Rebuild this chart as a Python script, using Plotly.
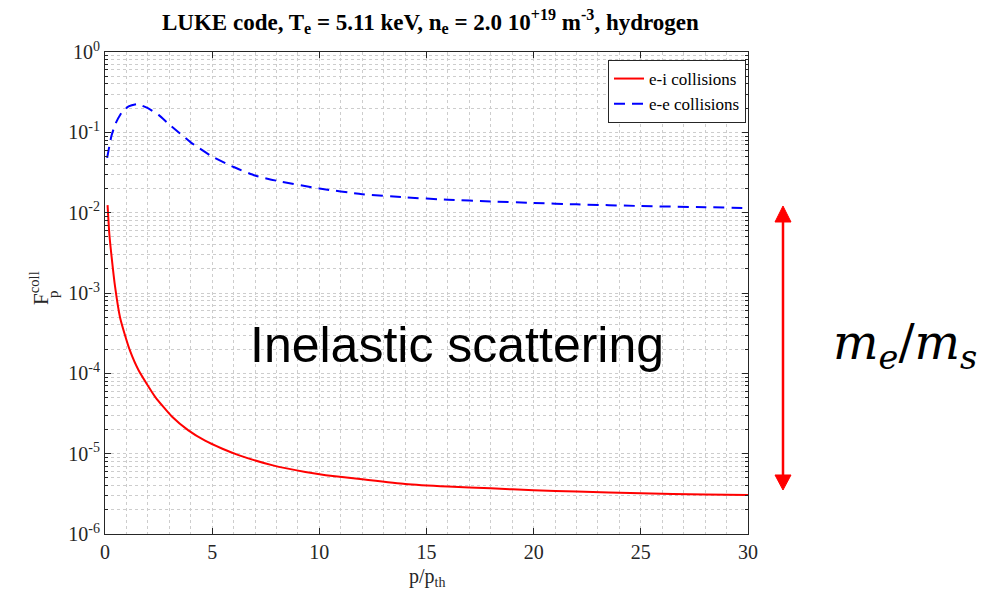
import plotly.graph_objects as go

# ---- data ----
p_ei = [0.12, 0.2, 0.31, 0.47, 0.7, 0.93, 1.17, 1.56, 2.34, 3.12, 3.89, 4.67, 5.45, 6.23, 7.79,
        9.35, 10.3, 12, 14, 16, 18, 20, 22, 25, 28, 30]
f_ei = [0.0124, 0.0055, 0.0028, 0.0012, 5.0e-4, 3.0e-4, 1.9e-4, 1.1e-4, 5.1e-5, 2.9e-5, 1.95e-5,
        1.45e-5, 1.16e-5, 9.6e-6, 7.2e-6, 5.9e-6, 5.4e-6, 4.8e-6, 4.2e-6, 3.9e-6, 3.7e-6, 3.5e-6,
        3.38e-6, 3.22e-6, 3.1e-6, 3.05e-6]

p_ee = [0.1, 0.3, 0.5, 0.8, 1.1, 1.5, 2.0, 2.5, 3.0, 3.5, 4.0, 5.0, 6.0, 7.0, 8.0, 10, 12, 14,
        16, 18, 20, 22, 25, 28, 30]
f_ee = [0.048, 0.09, 0.13, 0.18, 0.21, 0.225, 0.20, 0.165, 0.125, 0.097, 0.075, 0.05, 0.037,
        0.029, 0.025, 0.020, 0.0170, 0.0155, 0.0145, 0.0138, 0.0132, 0.0127, 0.0121, 0.0117, 0.0114]

series_names = ["e-i collisions", "e-e collisions"]
x_tickvals = [0, 5, 10, 15, 20, 25, 30]
y_exponents = [-6, -5, -4, -3, -2, -1, 0]
y_tickvals = [10.0 ** e for e in y_exponents]
y_ticktext = ["10<sup>%d</sup>" % e for e in y_exponents]
y_minor = [m * 10.0 ** e for e in y_exponents[:-1] for m in range(2, 10)]

title_text = ("<b>LUKE code, T<sub>e</sub> = 5.11 keV, n<sub>e</sub> = 2.0 10<sup>+19</sup> "
              "m<sup>-3</sup>, hydrogen</b>")

# ---- layout geometry (pixels) ----
W, H = 999, 600
L, R, T, B = 105, 251, 52, 66
PW, PH = W - L - R, H - T - B


def px(xp):
    return (xp - L) / PW


def py(yp):
    return (H - B - yp) / PH


SERIF = "Liberation Serif"
AX = "#262626"
GRID = "#cdcdcd"

fig = go.Figure()
fig.add_trace(go.Scatter(x=p_ei, y=f_ei, mode="lines", name=series_names[0],
                         line=dict(color="#ff0000", width=2, shape="spline", smoothing=0.5)))
fig.add_trace(go.Scatter(x=p_ee, y=f_ee, mode="lines", name=series_names[1],
                         line=dict(color="#0000ff", width=2, dash="11px,7px", shape="spline",
                                   smoothing=0.5)))

axis_common = dict(showline=True, linecolor=AX, linewidth=1, mirror="allticks",
                   ticks="inside", ticklen=6, tickcolor=AX, showgrid=True, gridcolor=GRID,
                   griddash="dot", gridwidth=1, zeroline=False,
                   tickfont=dict(family=SERIF, size=20, color=AX))

fig.update_xaxes(range=[0, 30], tickmode="array", tickvals=x_tickvals, **axis_common,
                 minor=dict(dtick=1, tick0=0, showgrid=True, gridcolor=GRID, griddash="dot",
                            ticks="", gridwidth=1))
fig.update_yaxes(type="log", range=[-6, 0], tickmode="array", tickvals=y_tickvals,
                 ticktext=y_ticktext, **axis_common,
                 minor=dict(tickmode="array", tickvals=y_minor, showgrid=True, gridcolor=GRID,
                            griddash="dot", ticks="inside", ticklen=3, tickcolor=AX,
                            gridwidth=1))

shapes = [
    dict(type="line", xref="paper", yref="paper", x0=px(783), x1=px(783), y0=py(220),
         y1=py(477), line=dict(color="#ff0000", width=2.5)),
    dict(type="path", xref="paper", yref="paper",
         path="M %f %f L %f %f L %f %f Z" % (px(783), py(206), px(775), py(222), px(791), py(222)),
         fillcolor="#ff0000", line=dict(color="#ff0000", width=1)),
    dict(type="path", xref="paper", yref="paper",
         path="M %f %f L %f %f L %f %f Z" % (px(783), py(490), px(775), py(475), px(791), py(475)),
         fillcolor="#ff0000", line=dict(color="#ff0000", width=1)),
]

annotations = [
    dict(text="Inelastic scattering", x=px(457), y=py(345), xref="paper", yref="paper",
         showarrow=False, font=dict(family="Liberation Sans", size=50, color="black"),
         xanchor="center", yanchor="middle"),
    dict(text="<i>m</i><sub><i>e</i></sub>/<i>m</i><sub><i>s</i></sub>", x=px(905), y=py(345),
         xref="paper", yref="paper", showarrow=False,
         font=dict(family="DejaVu Serif", size=48, color="black"),
         xanchor="center", yanchor="middle"),
    dict(text="F<sup>coll</sup>", x=px(39), y=py(288), xref="paper", yref="paper",
         showarrow=False, textangle=-90, font=dict(family=SERIF, size=21, color=AX),
         xanchor="center", yanchor="middle"),
    dict(text="p", x=px(53), y=py(294), xref="paper", yref="paper",
         showarrow=False, textangle=-90, font=dict(family=SERIF, size=15, color=AX),
         xanchor="center", yanchor="middle"),
    dict(text="p/p<sub>th</sub>", x=px(427), y=py(577), xref="paper", yref="paper",
         showarrow=False, font=dict(family=SERIF, size=20, color=AX),
         xanchor="center", yanchor="middle"),
    dict(text=title_text, x=px(430), y=py(21), xref="paper", yref="paper", showarrow=False,
         font=dict(family=SERIF, size=23, color="black"), xanchor="center", yanchor="middle"),
]

fig.update_layout(
    width=W, height=H, margin=dict(l=L, r=R, t=T, b=B),
    plot_bgcolor="white", paper_bgcolor="white",
    showlegend=True,
    legend=dict(x=px(746), y=py(60), xanchor="right", yanchor="top", bgcolor="white",
                bordercolor=AX, borderwidth=1, font=dict(family=SERIF, size=17, color="black"),
                itemwidth=30, tracegroupgap=0),
    shapes=shapes, annotations=annotations,
)

fig.write_html("out.html", config={"displayModeBar": False},
               post_script="document.body.style.margin='0px';")
